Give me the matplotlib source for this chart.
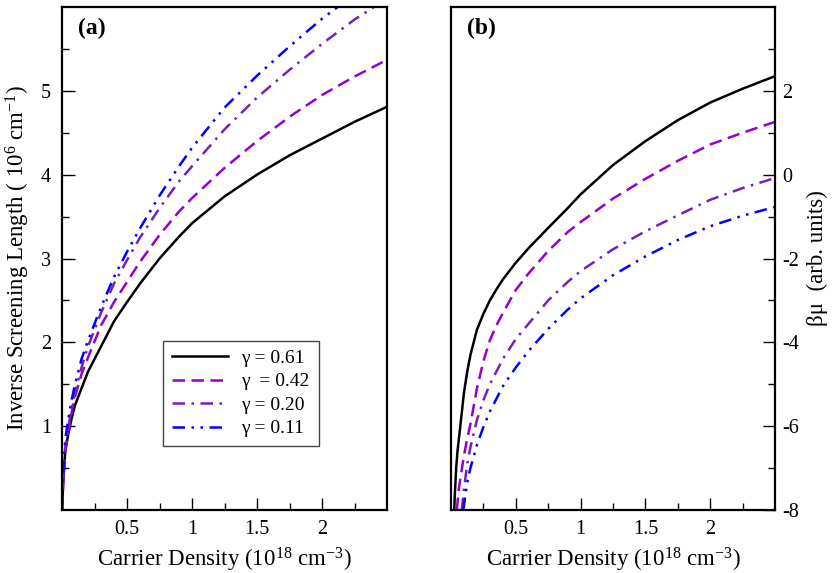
import numpy as np
import matplotlib
matplotlib.use('Agg')
import matplotlib.pyplot as plt
from matplotlib.ticker import FixedLocator

plt.rcParams['font.family'] = ['Liberation Serif', 'DejaVu Serif']
plt.rcParams['mathtext.fontset'] = 'custom'
plt.rcParams['mathtext.rm'] = 'Liberation Serif'
plt.rcParams['mathtext.it'] = 'Liberation Serif:italic'

# (a) inverse screening length vs carrier density
xa = [0, 0.01, 0.025, 0.05, 0.075, 0.1, 0.15, 0.2, 0.3, 0.4, 0.5, 0.6, 0.75, 0.9, 1.0, 1.25, 1.5, 1.75, 2.0, 2.25, 2.5]
a_061 = [0, 0.35, 0.7, 0.92, 1.1, 1.25, 1.45, 1.65, 1.95, 2.25, 2.48, 2.7, 3.0, 3.26, 3.42, 3.74, 4.0, 4.23, 4.43, 4.63, 4.81]
a_042 = [0, 0.36, 0.72, 0.95, 1.17, 1.35, 1.62, 1.82, 2.2, 2.48, 2.72, 2.96, 3.28, 3.56, 3.72, 4.08, 4.4, 4.69, 4.95, 5.17, 5.37]
a_020 = [0, 0.38, 0.75, 1.0, 1.22, 1.4, 1.7, 1.95, 2.35, 2.7, 2.98, 3.25, 3.6, 3.92, 4.1, 4.54, 4.92, 5.25, 5.56, 5.85, 6.1]
a_011 = [0, 0.45, 0.85, 1.1, 1.32, 1.5, 1.8, 2.02, 2.42, 2.78, 3.08, 3.36, 3.75, 4.1, 4.32, 4.8, 5.18, 5.53, 5.86, 6.15, 6.4]

# (b) beta*mu vs carrier density
xb_061 = [0.025, 0.03, 0.04, 0.05, 0.07, 0.1, 0.125, 0.15, 0.2, 0.25, 0.3, 0.35, 0.4, 0.5, 0.6, 0.75, 0.9, 1.0, 1.25, 1.5, 1.75, 2.0, 2.25, 2.5]
b_061 = [-8.0, -7.6, -7.0, -6.6, -6.05, -5.2, -4.7, -4.3, -3.7, -3.32, -3.0, -2.74, -2.5, -2.1, -1.75, -1.27, -0.8, -0.47, 0.23, 0.8, 1.3, 1.72, 2.05, 2.35]
xb_042 = [0.045, 0.06, 0.085, 0.1, 0.125, 0.15, 0.2, 0.25, 0.3, 0.35, 0.4, 0.5, 0.6, 0.75, 0.9, 1.0, 1.25, 1.5, 1.75, 2.0, 2.25, 2.5]
b_042 = [-8.0, -7.5, -7.0, -6.7, -6.3, -5.95, -5.1, -4.45, -3.95, -3.6, -3.3, -2.75, -2.35, -1.82, -1.37, -1.13, -0.57, -0.1, 0.33, 0.72, 1.0, 1.26]
xb_020 = [0.083, 0.1, 0.125, 0.15, 0.2, 0.25, 0.3, 0.4, 0.5, 0.6, 0.75, 0.9, 1.0, 1.25, 1.5, 1.75, 2.0, 2.25, 2.5]
b_020 = [-8.0, -7.5, -6.9, -6.5, -5.85, -5.38, -5.0, -4.4, -3.92, -3.55, -3.0, -2.56, -2.3, -1.78, -1.35, -0.97, -0.6, -0.32, -0.08]
xb_011 = [0.095, 0.125, 0.15, 0.2, 0.25, 0.3, 0.4, 0.5, 0.6, 0.75, 0.9, 1.0, 1.25, 1.5, 1.75, 2.0, 2.25, 2.5]
b_011 = [-8.0, -7.35, -7.0, -6.45, -6.02, -5.65, -5.05, -4.6, -4.2, -3.68, -3.22, -2.95, -2.4, -1.95, -1.56, -1.23, -0.98, -0.77]

labels = ['γ = 0.61', 'γ  = 0.42', 'γ = 0.20', 'γ = 0.11']
colors = ['black', '#9400D3', '#7221BC', '#0000FF']
dashes = [None, (5, 2.6), (5, 2.6, 1, 2.6), (5, 2.6, 1, 2.6, 1, 2.6)]

lw = 1.8
fig = plt.figure(figsize=(8.34, 5.73), dpi=100)
ax1 = fig.add_axes([62/834, 63/573, 325/834, 503/573])
ax2 = fig.add_axes([451/834, 63/573, 324/834, 503/573])

for ys, c, d, lab in zip([a_061, a_042, a_020, a_011], colors, dashes, labels):
    line, = ax1.plot(xa, ys, color=c, lw=lw, label=lab)
    if d is not None:
        line.set_dashes(d)

for xs, ys, c, d in zip([xb_061, xb_042, xb_020, xb_011], [b_061, b_042, b_020, b_011], colors, dashes):
    line, = ax2.plot(xs, ys, color=c, lw=lw)
    if d is not None:
        line.set_dashes(d)

for ax in (ax1, ax2):
    ax.set_xlim(0, 2.5)
    ax.xaxis.set_major_locator(FixedLocator([0.5, 1, 1.5, 2]))
    ax.xaxis.set_minor_locator(FixedLocator([0.25, 0.75, 1.25, 1.75, 2.25]))
    ax.set_xticklabels(['0.5', '1', '1.5', '2'])
    ax.tick_params(which='major', direction='in', length=9, width=1, labelsize=14.5)
    ax.tick_params(which='minor', direction='in', length=5, width=1)
    ax.tick_params(axis='x', pad=7)
    for s in ax.spines.values():
        s.set_linewidth(1.6)
    ax.set_xlabel('Carrier Density (10$^{18}$ cm$^{-3}$)', fontsize=16.5, labelpad=5)

ax1.set_ylim(0, 6)
ax1.yaxis.set_major_locator(FixedLocator([1, 2, 3, 4, 5]))
ax1.yaxis.set_minor_locator(FixedLocator([0.5, 1.5, 2.5, 3.5, 4.5, 5.5]))
ax1.set_yticklabels(['1', '2', '3', '4', '5'])
ax1.tick_params(axis='y', pad=8)
ax1.set_ylabel('Inverse Screening Length ( 10$^{6}$ cm$^{-1}$)', fontsize=16.5, labelpad=6)
ax1.text(0.05, 0.978, '(a)', transform=ax1.transAxes, fontsize=17, fontweight='bold', va='top')

leg = ax1.legend(loc='lower left', bbox_to_anchor=(0.31, 0.127), borderaxespad=0,
                 fontsize=14, handlelength=2.9, fancybox=False, framealpha=1,
                 labelspacing=0.3, borderpad=0.45, handletextpad=0.7)
leg.get_frame().set_edgecolor('#444444')
leg.get_frame().set_linewidth(1)

ax2.set_ylim(-8, 4)
ax2.yaxis.tick_right()
ax2.yaxis.set_label_position('right')
ax2.yaxis.set_major_locator(FixedLocator([-8, -6, -4, -2, 0, 2]))
ax2.yaxis.set_minor_locator(FixedLocator([-7, -5, -3, -1, 1, 3]))
ax2.set_yticklabels(['-8', '-6', '-4', '-2', '0', '2'])
ax2.tick_params(axis='y', pad=5)
ax2.set_ylabel('βμ  (arb. units)', fontsize=16.5, labelpad=6)
ax2.text(0.05, 0.978, '(b)', transform=ax2.transAxes, fontsize=17, fontweight='bold', va='top')

fig.savefig('out.png', dpi=100)
